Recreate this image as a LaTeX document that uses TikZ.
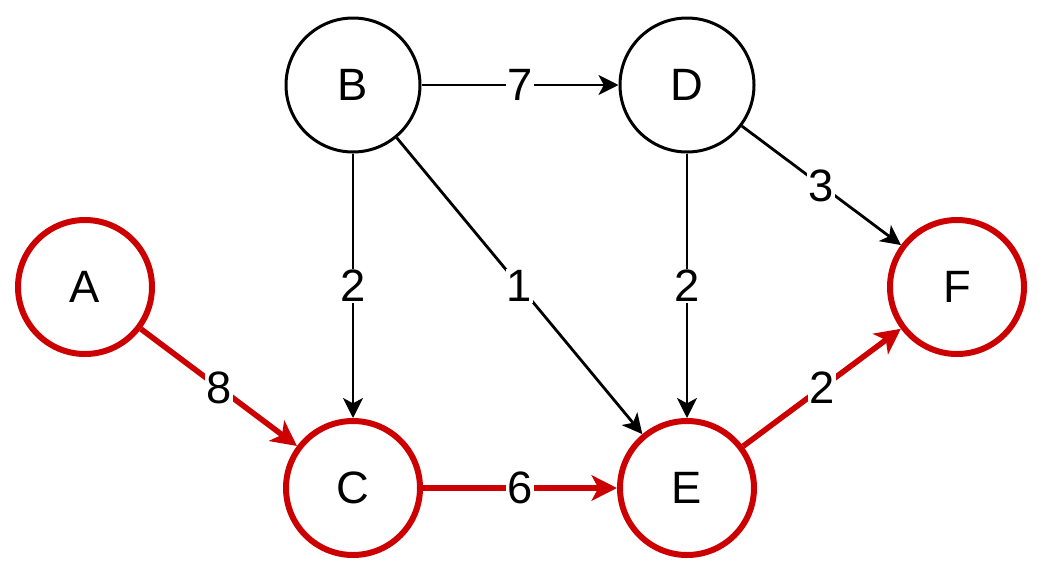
\documentclass[tikz,border=0pt]{standalone}
\usepackage{fontspec}
\setmainfont{Liberation Sans}
\usetikzlibrary{arrows.meta}
\definecolor{hired}{HTML}{CC0000}
\begin{document}
\begin{tikzpicture}[x=0.75pt,y=-0.75pt,
  vert/.style={circle,draw=black,line width=2.25pt,minimum size=100.5pt,inner sep=0pt,font=\fontsize{34}{40}\selectfont},
  hvert/.style={vert,draw=hired,line width=4.5pt},
  edge/.style={line width=2.1pt,draw=black,-{Stealth[length=15pt,width=15pt,inset=4pt]}},
  hedge/.style={line width=4.2pt,draw=hired,-{Stealth[length=19pt,width=19pt,inset=5pt]}},
  lab/.style={fill=white,inner sep=1pt,font=\fontsize{34}{40}\selectfont,text=black}]
\useasboundingbox (0,0) rectangle (1042,572);
\node[hvert] (A) at (85,287) {A};
\node[vert] (B) at (353,85) {B};
\node[vert] (D) at (687,85) {D};
\node[hvert] (C) at (353,488) {C};
\node[hvert] (E) at (687,488) {E};
\node[hvert] (F) at (957,287) {F};
\draw[edge] (B) -- node[lab] (l7) {7} (D);
\draw[edge] (B) -- node[lab] (l2a) {2} (C);
\draw[edge] (B) -- node[lab] (l1) {1} (E);
\draw[edge] (D) -- node[lab] (l2b) {2} (E);
\draw[edge] (D) -- node[lab] (l3) {3} (F);
\draw[hedge] (A) -- node[lab] (l8) {8} (C);
\draw[hedge] (C) -- node[lab] (l6) {6} (E);
\draw[hedge] (E) -- node[lab] (l2c) {2} (F);
\end{tikzpicture}
\end{document}
